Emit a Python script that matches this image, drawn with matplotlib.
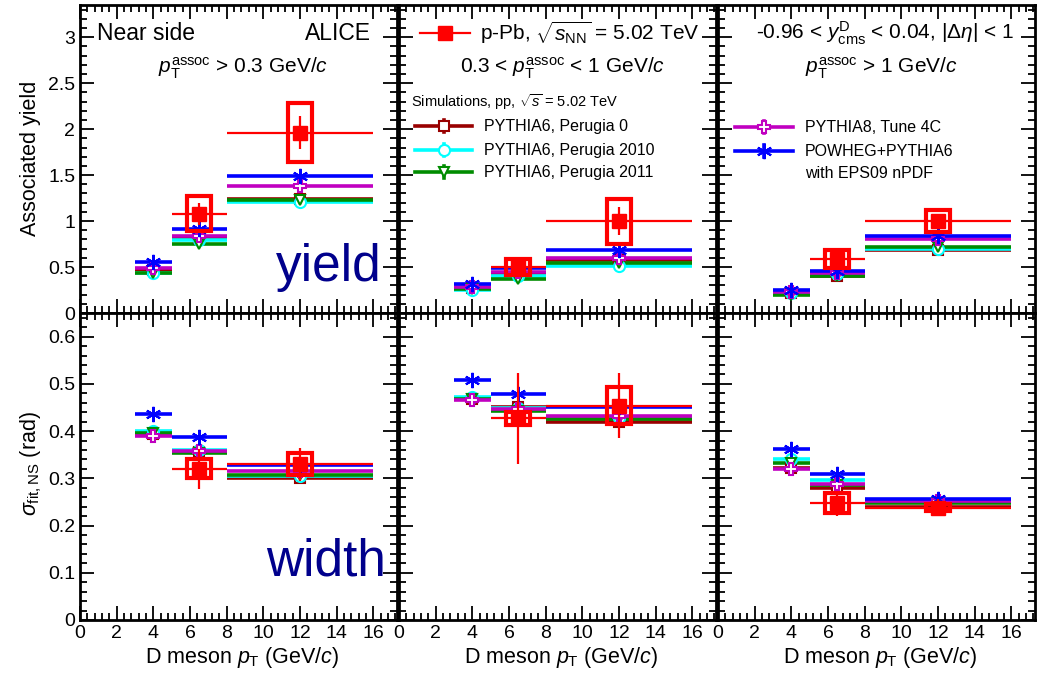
import matplotlib
matplotlib.use("Agg")
import matplotlib.pyplot as plt
from matplotlib.lines import Line2D
from matplotlib.patches import Rectangle
from matplotlib.ticker import MultipleLocator, FuncFormatter
import numpy as np

plt.rcParams['font.family'] = ['Liberation Sans', 'DejaVu Sans']
plt.rcParams['mathtext.fontset'] = 'custom'
plt.rcParams['mathtext.rm'] = 'Liberation Sans'
plt.rcParams['mathtext.it'] = 'Liberation Sans:italic'
plt.rcParams['mathtext.bf'] = 'Liberation Sans:bold'

# D-meson pT bins
bin_lo = [3.0, 5.0, 8.0]
bin_hi = [5.0, 8.0, 16.0]
bin_center = [4.0, 6.5, 12.0]

# p-Pb data (only the 5-8 and 8-16 GeV/c bins), one row per pT^assoc range
data_yield = [[1.08, 1.96], [0.50, 1.00], [0.585, 1.00]]
data_yield_stat = [[0.12, 0.18], [0.05, 0.15], [0.03, 0.06]]
data_yield_syst = [[0.19, 0.32], [0.09, 0.245], [0.10, 0.12]]

data_width = [[0.320, 0.330], [0.427, 0.454], [0.247, 0.238]]
data_width_stat = [[0.042, 0.035], [0.097, 0.069], [0.027, 0.018]]
data_width_syst = [[0.020, 0.023], [0.014, 0.040], [0.021, 0.008]]

# Simulations, one row per pT^assoc range, one value per D-meson pT bin
yield_perugia0 = [[0.47, 0.82, 1.24], [0.27, 0.43, 0.573], [0.215, 0.40, 0.68]]
yield_perugia2010 = [[0.44, 0.79, 1.21], [0.25, 0.40, 0.507], [0.215, 0.42, 0.70]]
yield_perugia2011 = [[0.43, 0.75, 1.23], [0.26, 0.374, 0.543], [0.20, 0.40, 0.717]]
yield_pythia8 = [[0.49, 0.834, 1.38], [0.28, 0.446, 0.60], [0.228, 0.44, 0.805]]
yield_powheg = [[0.555, 0.917, 1.489], [0.31, 0.49, 0.68], [0.247, 0.457, 0.834]]

width_perugia0 = [[0.393, 0.355, 0.301], [0.467, 0.451, 0.419], [0.322, 0.280, 0.240]]
width_perugia2010 = [[0.401, 0.360, 0.305], [0.472, 0.449, 0.428], [0.341, 0.296, 0.250]]
width_perugia2011 = [[0.396, 0.353, 0.307], [0.468, 0.443, 0.426], [0.332, 0.285, 0.247]]
width_pythia8 = [[0.390, 0.357, 0.316], [0.465, 0.447, 0.431], [0.320, 0.289, 0.253]]
width_powheg = [[0.436, 0.388, 0.328], [0.509, 0.479, 0.450], [0.361, 0.309, 0.257]]

assoc_labels = [r"$p_{\mathrm{T}}^{\mathrm{assoc}}$ > 0.3 GeV/$c$",
                r"0.3 < $p_{\mathrm{T}}^{\mathrm{assoc}}$ < 1 GeV/$c$",
                r"$p_{\mathrm{T}}^{\mathrm{assoc}}$ > 1 GeV/$c$"]

RED = '#ff0000'
models = [
    ("PYTHIA6, Perugia 0", '#990000', dict(marker='s', ms=7, mfc='white', mew=1.5)),
    ("PYTHIA6, Perugia 2010", '#00ffff', dict(marker='o', ms=8, mfc='white', mew=1.5)),
    ("PYTHIA6, Perugia 2011", '#008c00', dict(marker='v', ms=7, mfc='white', mew=1.5)),
    ("PYTHIA8, Tune 4C", '#c000c0', dict(marker='P', ms=9, mfc='white', mew=1.5)),
    ("POWHEG+PYTHIA6", '#0000ff', dict(marker=(6, 2, 0), ms=11, mew=1.5)),
]
yield_models = [yield_perugia0, yield_perugia2010, yield_perugia2011, yield_pythia8, yield_powheg]
width_models = [width_perugia0, width_perugia2010, width_perugia2011, width_pythia8, width_powheg]

W, H = 1039, 676
fig = plt.figure(figsize=(W / 100, H / 100), dpi=100)


def fx(px):
    return px / W


def fy(py):
    return 1 - py / H


lefts = [80, 399, 718]
pw = 317
rows = [(5, 313, 3.35, 0.5, 0.1), (313, 620, 0.65, 0.1, 0.02)]

xlo = np.array(bin_lo)
xhi = np.array(bin_hi)
xc = np.array(bin_center)

for r, (top, bot, ymax, ymaj, ymin) in enumerate(rows):
    for c, left in enumerate(lefts):
        ax = fig.add_axes([fx(left), fy(bot), pw / W, (bot - top) / H])
        ax.set_xlim(0, 17.3)
        ax.set_ylim(0, ymax)
        ax.xaxis.set_major_locator(MultipleLocator(2))
        ax.xaxis.set_minor_locator(MultipleLocator(0.4))
        ax.yaxis.set_major_locator(MultipleLocator(ymaj))
        ax.yaxis.set_minor_locator(MultipleLocator(ymin))
        ax.tick_params(which='both', direction='in', top=True, right=True,
                       labelsize=14, width=1.3)
        ax.tick_params(which='major', length=10)
        ax.tick_params(which='minor', length=5)
        for s in ax.spines.values():
            s.set_linewidth(2)
        if c > 0:
            ax.tick_params(labelleft=False)
        if r == 0:
            ax.tick_params(labelbottom=False)
            ax.yaxis.set_major_formatter(FuncFormatter(lambda v, p: f"{v:g}"))
        else:
            ax.xaxis.set_major_formatter(FuncFormatter(lambda v, p: f"{v:.0f}"))
            ax.yaxis.set_major_formatter(FuncFormatter(
                lambda v, p: "0" if v == 0 else f"{v:.1f}"))

        vals_models = yield_models if r == 0 else width_models
        dval = data_yield if r == 0 else data_width
        dstat = data_yield_stat if r == 0 else data_width_stat
        dsyst = data_yield_syst if r == 0 else data_width_syst

        # model predictions: horizontal bars across each bin with a marker at the centre
        for (name, col, mk), vals in zip(models, vals_models):
            y = np.array(vals[c])
            ax.errorbar(xc, y, xerr=[xc - xlo, xhi - xc], fmt='none',
                        ecolor=col, elinewidth=2.6, capsize=0, zorder=3)
            ax.plot(xc, y, linestyle='none', color=col, mec=col, zorder=4, **mk)

        # measured points with statistical bars and systematic boxes
        y = np.array(dval[c])
        ys = np.array(dstat[c])
        sy = np.array(dsyst[c])
        xd, xdl, xdh = xc[1:], xlo[1:], xhi[1:]
        for xi, yi, si in zip(xd, y, sy):
            ax.add_patch(Rectangle((xi - 0.65, yi - si), 1.3, 2 * si, fill=False,
                                   edgecolor=RED, lw=3, zorder=5))
        ax.errorbar(xd, y, xerr=[xd - xdl, xdh - xd], yerr=ys, fmt='s',
                    color=RED, ms=10, elinewidth=1.6, capsize=0, zorder=6)

# Panel annotations
fig.text(fx(97), fy(33), "Near side", fontsize=16.5, va='center', ha='left')
fig.text(fx(371), fy(33), "ALICE", fontsize=16.5, va='center', ha='right')
for c, left in enumerate(lefts):
    fig.text(fx(left + pw / 2 + 5), fy(68), assoc_labels[c], fontsize=15,
             va='center', ha='center')
fig.text(fx(885), fy(33),
         r"-0.96 < $y^{\mathrm{D}}_{\mathrm{cms}}$ < 0.04, |$\Delta\eta$| < 1",
         fontsize=15, va='center', ha='center')

fig.text(fx(382), fy(268), "yield", fontsize=37, color='#00008c',
         va='center', ha='right')
fig.text(fx(386), fy(562), "width", fontsize=37, color='#00008c',
         va='center', ha='right')


def legend_key(x1, x2, y, col, lw, mk, bar=6):
    fig.add_artist(Line2D([fx(x1), fx(x2)], [fy(y), fy(y)], color=col, lw=lw,
                          transform=fig.transFigure))
    xm = (x1 + x2) / 2
    if bar:
        fig.add_artist(Line2D([fx(xm), fx(xm)], [fy(y - bar), fy(y + bar)], color=col,
                              lw=lw, transform=fig.transFigure))
    fig.add_artist(Line2D([fx(xm)], [fy(y)], color=col, mec=col, linestyle='none',
                          transform=fig.transFigure, **mk))


legend_key(420, 470, 33, RED, 1.6, dict(marker='s', ms=10), bar=0)
fig.text(fx(480), fy(33), r"p-Pb, $\sqrt{s_{\mathrm{NN}}}$ = 5.02 TeV", fontsize=15,
         va='center', ha='left')

fig.text(fx(411), fy(102), r"Simulations, pp, $\sqrt{s}$ = 5.02 TeV", fontsize=10.5,
         va='center', ha='left')
for i, yk in enumerate([126, 150, 172]):
    name, col, mk = models[i]
    legend_key(415, 472, yk, col, 2.6, mk)
    fig.text(fx(484), fy(yk), name, fontsize=11.5, va='center', ha='left')
for i, yk in zip([3, 4], [127, 151]):
    name, col, mk = models[i]
    legend_key(735, 793, yk, col, 2.6, mk)
    fig.text(fx(805), fy(yk), name, fontsize=11.5, va='center', ha='left')
fig.text(fx(805), fy(173), "with EPS09 nPDF", fontsize=11.5, va='center', ha='left')

# Axis titles
fig.text(fx(31), fy(158), "Associated yield", fontsize=15.5, rotation=90,
         va='center', ha='center')
fig.text(fx(31), fy(464), r"$\sigma_{\mathrm{fit,NS}}$ (rad)", fontsize=15.5,
         rotation=90, va='center', ha='center')
for left in lefts:
    fig.text(fx(left + pw / 2 + 4), fy(658), r"D meson $p_{\mathrm{T}}$ (GeV/$c$)",
             fontsize=15.5, va='center', ha='center')

fig.savefig("out.png", dpi=100)
